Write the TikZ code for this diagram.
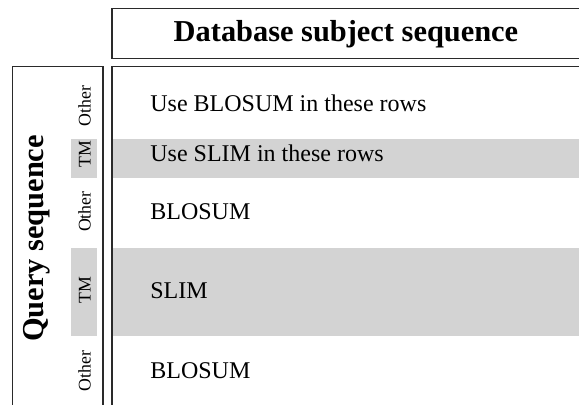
\documentclass[tikz,border=0pt]{standalone}
\usepackage{fontspec}
\setmainfont{Liberation Serif}
\definecolor{bandgray}{HTML}{D3D3D3}
\definecolor{linegray}{HTML}{2A2A2A}
\begin{document}
\begin{tikzpicture}[x=0.5pt,y=-0.5pt,
  band/.style={fill=bandgray},
  frame/.style={draw=linegray,line width=0.65pt},
  body/.style={inner sep=0pt,font=\fontsize{12}{14}\selectfont,anchor=base west},
  small/.style={inner sep=0pt,font=\fontsize{8.9}{10}\selectfont,rotate=90,anchor=base},
  heading/.style={inner sep=0pt,font=\fontsize{15.2}{18}\selectfont\bfseries,anchor=base}]
\useasboundingbox (0,0) rectangle (579,405);
\clip (0,0) rectangle (579,405);
% grey bands
\fill[band] (111.7,139) rectangle (590,178);
\fill[band] (111.7,248) rectangle (590,336);
\fill[band] (71,139) rectangle (97,178);
\fill[band] (71,248) rectangle (97,336);
% frames
\draw[frame] (112,8.5) rectangle (600,58.5);
\draw[frame] (112,420) |- (600,66.5);
\draw[frame] (12.3,420) |- (103,66.5) -- (103,420);
% title
\node[heading] (title) at (346,41.7) {Database subject sequence};
\node[heading,rotate=90] (query) at (43,238.5) {Query sequence};
% side labels
\node[small] (o1) at (90.5,106) {Other};
\node[small] (t1) at (90.5,154) {TM};
\node[small] (o2) at (90.5,211.7) {Other};
\node[small] (t2) at (90.5,290) {TM};
\node[small] (o3) at (90.5,371) {Other};
% row texts
\node[body] (r1) at (150,111.7) {Use BLOSUM in these rows};
\node[body] (r2) at (150,161.7) {Use SLIM in these rows};
\node[body] (r3) at (150,219.3) {BLOSUM};
\node[body] (r4) at (150,298.3) {SLIM};
\node[body] (r5) at (150,379) {BLOSUM};
\end{tikzpicture}
\end{document}
